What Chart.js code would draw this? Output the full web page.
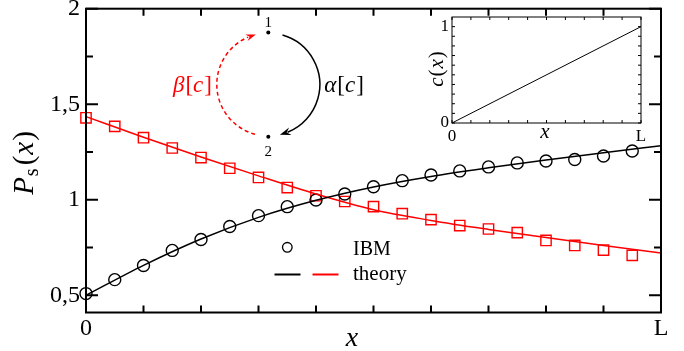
<!DOCTYPE html>
<html><head><meta charset="utf-8">
<script src="https://cdn.jsdelivr.net/npm/chart.js@4.4.1/dist/chart.umd.min.js"></script>
<style>
html,body{margin:0;padding:0;background:#fff;}
#wrap{position:relative;width:684px;height:351px;overflow:hidden;}
#main{position:absolute;left:0;top:0;}
#inset{position:absolute;left:420px;top:9px;}
</style></head><body>
<div id="wrap"><canvas id="main" width="684" height="351"></canvas><canvas id="inset" width="240" height="140"></canvas></div>
<script>
// ---------- data ----------
const xPoints = [0,0.05,0.1,0.15,0.2,0.25,0.3,0.35,0.4,0.45,0.5,0.55,0.6,0.65,0.7,0.75,0.8,0.85,0.9,0.95];
const ibmBlack = [0.509,0.582,0.656,0.735,0.792,0.86,0.917,0.964,0.999,1.03,1.068,1.10,1.13,1.151,1.172,1.193,1.203,1.211,1.229,1.255];
const ibmRed = [1.429,1.384,1.325,1.271,1.221,1.165,1.117,1.064,1.021,0.991,0.964,0.927,0.896,0.865,0.847,0.828,0.787,0.761,0.737,0.709];
const theoryX = [0,0.1,0.2,0.3,0.4,0.5,0.6,0.7,0.8,0.9,1.0];
const theoryBlack = [0.5,0.657,0.795,0.908,0.997,1.067,1.122,1.167,1.208,1.246,1.283];
const theoryRed = [1.435,1.327,1.224,1.125,1.03,0.948,0.892,0.845,0.802,0.761,0.722];
const xTickValues = [0,0.1,0.2,0.3,0.4,0.5,0.6,0.7,0.8,0.9,1];
const xTickLabels = ['0','','','','','','','','','','L'];
const yTickValues = [0.5,0.75,1,1.25,1.5,1.75,2];
const yTickLabels = ['0,5','','1','','1,5','','2'];
const insetX = [0,1];
const insetC = [0,1];
const insetXTickValues = [0,0.1,0.2,0.3,0.4,0.5,0.6,0.7,0.8,0.9,1];
const insetXTickLabels = ['0','','','','','','','','','','L'];
const insetYTickValues = [0,0.1,0.2,0.3,0.4,0.5,0.6,0.7,0.8,0.9,1];
const insetYTickLabels = ['0','','','','','','','','','','1'];

const SERIF = '"Liberation Serif", "DejaVu Serif", serif';

// ---------- helpers ----------
function drawMath(ctx, parts, x, y, o) {
  o = o || {};
  let w = 0;
  parts.forEach(p => {
    ctx.font = (p.it ? 'italic ' : '') + (p.size || o.size) + 'px ' + SERIF;
    p.w = ctx.measureText(p.t).width;
    w += p.w + (p.gap || 0);
  });
  ctx.save();
  ctx.translate(x, y);
  if (o.rot) ctx.rotate(o.rot);
  let cx = o.align === 'left' ? 0 : -w / 2;
  ctx.textBaseline = 'alphabetic';
  ctx.textAlign = 'left';
  parts.forEach(p => {
    ctx.font = (p.it ? 'italic ' : '') + (p.size || o.size) + 'px ' + SERIF;
    ctx.fillStyle = p.color || o.color || '#000';
    ctx.fillText(p.t, cx, p.dy || 0);
    cx += p.w + (p.gap || 0);
  });
  ctx.restore();
}
function arrowHead(ctx, x, y, ang, len, wid, color) {
  ctx.save();
  ctx.translate(x, y); ctx.rotate(ang);
  ctx.beginPath();
  ctx.moveTo(0, 0); ctx.lineTo(-len, -wid / 2); ctx.lineTo(-len * 0.65, 0); ctx.lineTo(-len, wid / 2);
  ctx.closePath(); ctx.fillStyle = color; ctx.fill();
  ctx.restore();
}

// frame + inward ticks on all sides
const frameTicks = {
  id: 'frameTicks',
  afterDraw(chart, args, o) {
    const {ctx, chartArea: a, scales: {x, y}} = chart;
    ctx.save();
    ctx.strokeStyle = '#000'; ctx.lineWidth = o.lw; ctx.lineCap = 'butt';
    ctx.beginPath();
    x.ticks.forEach(t => {
      const px = x.getPixelForValue(t.value);
      ctx.moveTo(px, a.bottom); ctx.lineTo(px, a.bottom - o.xLen);
      ctx.moveTo(px, a.top); ctx.lineTo(px, a.top + o.xLen);
    });
    y.ticks.forEach(t => {
      const py = y.getPixelForValue(t.value);
      const L = t.label ? o.yMajor : o.yMinor;
      ctx.moveTo(a.left, py); ctx.lineTo(a.left + L, py);
      ctx.moveTo(a.right, py); ctx.lineTo(a.right - L, py);
    });
    ctx.stroke();
    ctx.strokeRect(a.left, a.top, a.right - a.left, a.bottom - a.top);
    ctx.restore();
  }
};

const mainDecor = {
  id: 'mainDecor',
  afterDraw(chart) {
    const ctx = chart.ctx;
    ctx.save();
    // y title P_s(x)
    drawMath(ctx, [
      {t:'P', it:true, gap:1},
      {t:'s', it:false, size:20, dy:5, gap:3},
      {t:'(', gap:1},
      {t:'x', it:true, gap:1},
      {t:')'}
    ], 33, 163, {size:29, rot:-Math.PI/2});
    // x title
    drawMath(ctx, [{t:'x', it:true}], 352, 346, {size:28});

    // diagram
    const cx = 268.3, cy = 84.5, r = 51.5, d = Math.PI / 180;
    ctx.lineWidth = 1.5;
    ctx.strokeStyle = '#000';
    ctx.beginPath(); ctx.arc(cx, cy, r, -74 * d, 68 * d); ctx.stroke();
    arrowHead(ctx, cx + r * Math.cos(77 * d), cy + r * Math.sin(77 * d), 162 * d, 11, 8, '#000');
    ctx.strokeStyle = '#ff0000';
    ctx.setLineDash([4, 3]);
    ctx.beginPath(); ctx.arc(cx, cy, r, 105 * d, 247 * d); ctx.stroke();
    ctx.setLineDash([]);
    arrowHead(ctx, cx + r * Math.cos(256 * d), cy + r * Math.sin(256 * d), 341 * d, 10, 7, '#ff0000');
    ctx.fillStyle = '#000';
    ctx.beginPath(); ctx.arc(268.3, 32.5, 2, 0, 2 * Math.PI); ctx.fill();
    ctx.beginPath(); ctx.arc(268.3, 136.7, 2, 0, 2 * Math.PI); ctx.fill();
    drawMath(ctx, [{t:'1'}], 268.3, 27, {size:15});
    drawMath(ctx, [{t:'2'}], 268.3, 156, {size:15});
    drawMath(ctx, [{t:'α', it:true, gap:1}, {t:'['}, {t:'c', it:true, gap:1}, {t:']'}], 344, 92, {size:23});
    drawMath(ctx, [{t:'β', it:true, gap:1}, {t:'['}, {t:'c', it:true, gap:1}, {t:']'}], 192.5, 92, {size:23, color:'#ff0000'});

    // legend
    ctx.strokeStyle = '#000'; ctx.lineWidth = 1.3;
    ctx.beginPath(); ctx.arc(287.3, 247.3, 4.8, 0, 2 * Math.PI); ctx.stroke();
    ctx.lineWidth = 2;
    ctx.beginPath(); ctx.moveTo(274.5, 274.5); ctx.lineTo(300.5, 274.5); ctx.stroke();
    ctx.strokeStyle = '#ff0000';
    ctx.beginPath(); ctx.moveTo(312.5, 274.5); ctx.lineTo(338.5, 274.5); ctx.stroke();
    drawMath(ctx, [{t:'IBM'}], 353, 255, {size:20, align:'left'});
    drawMath(ctx, [{t:'theory'}], 353, 279.5, {size:21, align:'left'});
    ctx.restore();
  }
};

const insetDecor = {
  id: 'insetDecor',
  afterDraw(chart) {
    const ctx = chart.ctx;
    drawMath(ctx, [{t:'c', it:true, gap:1}, {t:'(', gap:1}, {t:'x', it:true, gap:1}, {t:')'}], 23, 60, {size:21, rot:-Math.PI/2});
    drawMath(ctx, [{t:'x', it:true}], 125, 129, {size:21});
  }
};

function tickSetter(values) { return s => { s.ticks = values.map(v => ({value: v})); }; }
function labelFrom(values, labels) { return v => { const i = values.indexOf(v); return i >= 0 ? labels[i] : ''; }; }

// ---------- main chart ----------
new Chart(document.getElementById('main'), {
  type: 'line',
  data: {
    datasets: [
      {label:'theory black', data: theoryX.map((x, i) => ({x, y: theoryBlack[i]})), borderColor:'#000', borderWidth:1.5, pointRadius:0, cubicInterpolationMode:'monotone', fill:false, clip:false},
      {label:'theory red', data: theoryX.map((x, i) => ({x, y: theoryRed[i]})), borderColor:'#ff0000', borderWidth:1.5, pointRadius:0, cubicInterpolationMode:'monotone', fill:false, clip:false},
      {label:'IBM black', data: xPoints.map((x, i) => ({x, y: ibmBlack[i]})), showLine:false, pointStyle:'circle', pointRadius:6, pointBorderWidth:1.4, borderColor:'#000', pointBackgroundColor:'rgba(0,0,0,0)', clip:false},
      {label:'IBM red', data: xPoints.map((x, i) => ({x, y: ibmRed[i]})), showLine:false, pointStyle:'rect', pointRadius:7.3, pointBorderWidth:1.4, borderColor:'#ff0000', pointBackgroundColor:'rgba(0,0,0,0)', clip:false}
    ]
  },
  options: {
    responsive:false, animation:false, devicePixelRatio:1,
    layout:{padding:{top:7, right:23, left:0, bottom:0}},
    plugins:{legend:{display:false}, tooltip:{enabled:false}, frameTicks:{lw:2, xLen:7, yMajor:12, yMinor:7}},
    scales:{
      x:{type:'linear', min:0, max:1,
        afterBuildTicks: tickSetter(xTickValues),
        ticks:{callback: labelFrom(xTickValues, xTickLabels), font:{family:SERIF, size:24, lineHeight:1}, color:'#000', padding:4, maxRotation:0, autoSkip:false},
        grid:{display:false, drawTicks:false}, border:{display:false},
        afterFit: s => { s.height = 38.5; s.paddingLeft = 0; s.paddingRight = 0; }},
      y:{type:'linear', min:0.41, max:2,
        afterBuildTicks: tickSetter(yTickValues),
        ticks:{callback: labelFrom(yTickValues, yTickLabels), font:{family:SERIF, size:24, lineHeight:1}, color:'#000', padding:6, autoSkip:false},
        grid:{display:false, drawTicks:false}, border:{display:false},
        afterFit: s => { s.width = 86; s.paddingTop = 0; s.paddingBottom = 0; }}
    }
  },
  plugins:[frameTicks, mainDecor]
});

// ---------- inset chart ----------
new Chart(document.getElementById('inset'), {
  type: 'line',
  data: {datasets:[{label:'c(x)', data: insetX.map((x, i) => ({x, y: insetC[i]})), borderColor:'#000', borderWidth:1, pointRadius:0, fill:false, clip:false}]},
  options: {
    responsive:false, animation:false, devicePixelRatio:1,
    layout:{padding:{top:8, right:19, left:0, bottom:0}},
    plugins:{legend:{display:false}, tooltip:{enabled:false}, frameTicks:{lw:1, xLen:3, yMajor:3, yMinor:3}},
    scales:{
      x:{type:'linear', min:0, max:1,
        afterBuildTicks: tickSetter(insetXTickValues),
        ticks:{callback: labelFrom(insetXTickValues, insetXTickLabels), font:{family:SERIF, size:17, lineHeight:1}, color:'#000', padding:5, maxRotation:0, autoSkip:false},
        grid:{display:false, drawTicks:false}, border:{display:false},
        afterFit: s => { s.height = 26; s.paddingLeft = 0; s.paddingRight = 0; }},
      y:{type:'linear', min:0, max:1.1,
        afterBuildTicks: tickSetter(insetYTickValues),
        ticks:{callback: labelFrom(insetYTickValues, insetYTickLabels), font:{family:SERIF, size:17, lineHeight:1}, color:'#000', padding:3, autoSkip:false},
        grid:{display:false, drawTicks:false}, border:{display:false},
        afterFit: s => { s.width = 32; s.paddingTop = 0; s.paddingBottom = 0; }}
    }
  },
  plugins:[frameTicks, insetDecor]
});
</script>
</body></html>
